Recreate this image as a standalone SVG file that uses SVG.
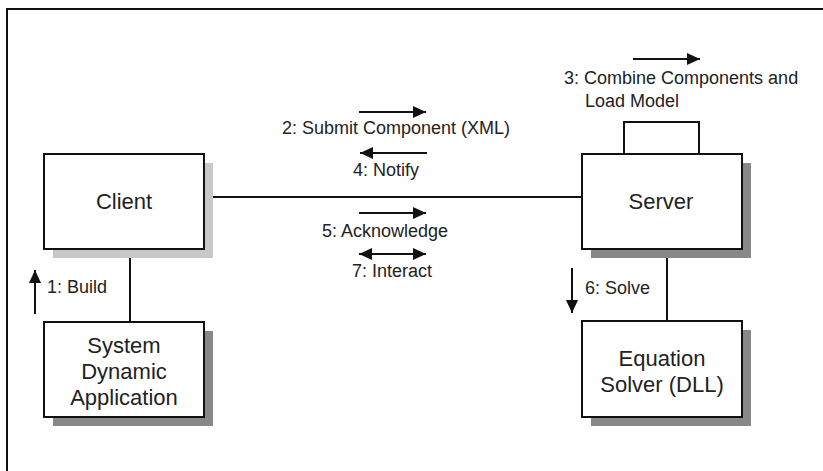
<svg xmlns="http://www.w3.org/2000/svg" width="823" height="471" viewBox="0 0 823 471">
  <defs>
    <marker id="head" viewBox="0 0 13 12" refX="13" refY="6" markerWidth="13" markerHeight="12" markerUnits="userSpaceOnUse" orient="auto-start-reverse">
      <path d="M0,0 L13,6 L0,12 z" fill="#111"/>
    </marker>
    <style>
      .box { fill: #fff; stroke: #111; stroke-width: 2; }
      .shadow-light { fill: #c8c8c8; }
      .shadow-dark { fill: #888; }
      .link { stroke: #111; stroke-width: 2; fill: none; }
      .msg { stroke: #111; stroke-width: 2; fill: none; marker-end: url(#head); }
      .both { marker-start: url(#head); }
      .node-text { font-family: "Liberation Sans", Arial, sans-serif; font-size: 22px; fill: #222; text-anchor: middle; }
      .label { font-family: "Liberation Sans", Arial, sans-serif; font-size: 18px; fill: #222; }
      .frame { fill: none; stroke: #111; stroke-width: 2; }
    </style>
  </defs>

  <rect width="823" height="471" fill="#fff"/>
  <!-- outer frame: only the top and left edges fall inside the canvas -->
  <path class="frame" d="M7,471 V9 H823"/>

  <!-- connectors and message labels -->
  <g id="connectors">
    <line class="link" x1="204" y1="197" x2="582" y2="197"/>
    <line class="link" x1="130" y1="249" x2="130" y2="322"/>
    <line class="link" x1="667" y1="249" x2="667" y2="321"/>

    <line class="msg" x1="359" y1="112" x2="426" y2="112"/>
    <text class="label" x="282" y="134">2: Submit Component (XML)</text>

    <line class="msg" x1="427" y1="153" x2="360" y2="153"/>
    <text class="label" x="353" y="176">4: Notify</text>

    <line class="msg" x1="359" y1="213" x2="426" y2="213"/>
    <text class="label" x="322" y="237">5: Acknowledge</text>

    <line class="msg both" x1="359" y1="254" x2="426" y2="254"/>
    <text class="label" x="352" y="277">7: Interact</text>

    <line class="msg" x1="633" y1="59" x2="700" y2="59"/>
    <text class="label" x="564" y="84">3: Combine Components and</text>
    <text class="label" x="585" y="107">Load Model</text>

    <line class="msg" x1="35" y1="314" x2="35" y2="270"/>
    <text class="label" x="47" y="293">1: Build</text>

    <line class="msg" x1="572" y1="268" x2="572" y2="313"/>
    <text class="label" x="585" y="294">6: Solve</text>
  </g>

  <g id="client">
    <rect class="shadow-light" x="53" y="163" width="160" height="95"/>
    <rect class="box" x="44" y="154" width="160" height="95"/>
    <text class="node-text" x="124" y="209">Client</text>
  </g>

  <g id="system-dynamic-application">
    <rect class="shadow-dark" x="53" y="331" width="160" height="95"/>
    <rect class="box" x="44" y="322" width="160" height="95"/>
    <text class="node-text" x="124" y="353">System</text>
    <text class="node-text" x="124" y="379">Dynamic</text>
    <text class="node-text" x="124" y="405">Application</text>
  </g>

  <g id="server">
    <rect class="shadow-dark" x="591" y="163" width="160" height="95"/>
    <rect class="box" x="624" y="122" width="75" height="32"/>
    <rect class="box" x="582" y="154" width="160" height="95"/>
    <text class="node-text" x="661" y="209">Server</text>
  </g>

  <g id="equation-solver">
    <rect class="shadow-dark" x="591" y="330" width="160" height="96"/>
    <rect class="box" x="582" y="321" width="160" height="96"/>
    <text class="node-text" x="662" y="366">Equation</text>
    <text class="node-text" x="662" y="392">Solver (DLL)</text>
  </g>
</svg>
